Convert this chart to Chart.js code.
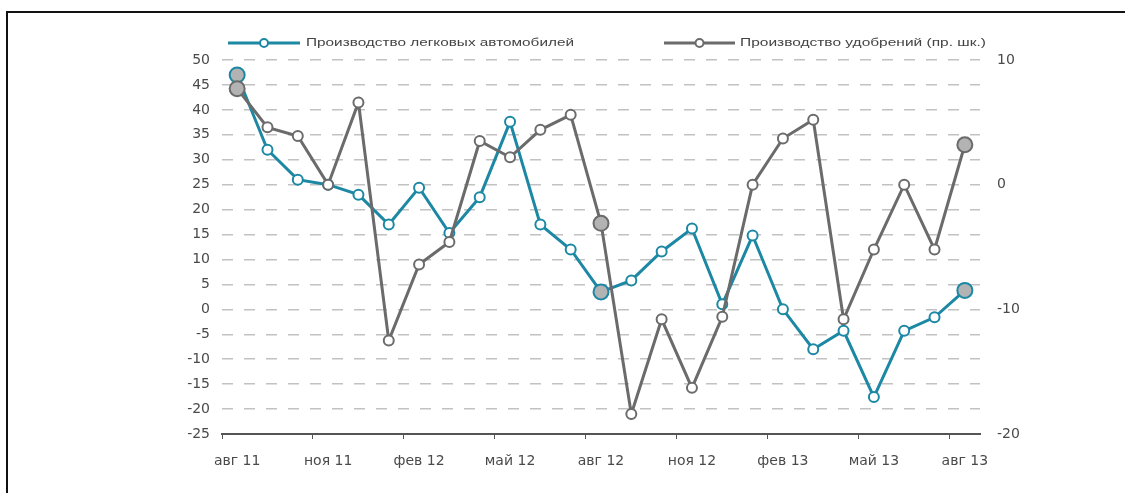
<!DOCTYPE html>
<html>
<head>
<meta charset="utf-8">
<script src="https://cdn.jsdelivr.net/npm/chart.js@4"></script>
<style>
  html, body { margin: 0; padding: 0; background: #fff; }
  #wrap { position: relative; width: 1125px; height: 493px; }
  #frame { position: absolute; left: 6px; top: 11px; right: 0; bottom: 0;
           border-top: 2px solid #111; border-left: 2px solid #111; pointer-events: none; }
</style>
</head>
<body>
<div id="wrap">
  <canvas id="grafico" width="1125" height="493"></canvas>
  <div id="frame"></div>
</div>
<script>
// Месяцы (авг 2011 - авг 2013)
const meses = ['авг 11', 'сен 11', 'окт 11', 'ноя 11', 'дек 11', 'янв 12', 'фев 12', 'мар 12', 'апр 12',
  'май 12', 'июн 12', 'июл 12', 'авг 12', 'сен 12', 'окт 12', 'ноя 12', 'дек 12', 'янв 13',
  'фев 13', 'мар 13', 'апр 13', 'май 13', 'июн 13', 'июл 13', 'авг 13'];

// Производство легковых автомобилей (левая ось)
const autos = [47, 32, 26, 25, 23, 17, 24.4, 15.3, 22.5, 37.6, 17, 12, 3.5, 5.8, 11.6, 16.2, 1, 14.8,
  0, -8, -4.3, -17.6, -4.3, -1.6, 3.8];

// Производство удобрений, пр. шк. (правая ось)
const fertilizantes = [7.7, 4.6, 3.9, 0, 6.6, -12.5, -6.4, -4.6, 3.5, 2.2, 4.4, 5.6, -3.1, -18.4, -10.8,
  -16.3, -10.6, 0, 3.7, 5.2, -10.8, -5.2, 0, -5.2, 3.2];

const nombres = ['Производство легковых автомобилей', 'Производство удобрений (пр. шк.)'];

// puntos destacados (rellenos de gris)
const destacados = [0, 12, 24];
const rellenoPunto = c => destacados.includes(c.dataIndex) ? '#b3b3b3' : '#fff';
const radioPunto = c => destacados.includes(c.dataIndex) ? 7.5 : 5;

// Leyenda dibujada a mano: línea con círculo en el centro
const leyenda = {
  id: 'leyenda',
  afterDraw(chart) {
    const ctx = chart.ctx;
    const items = [
      { ds: 0, x0: 228, x1: 300, tx: 306, tw: 268 },
      { ds: 1, x0: 664, x1: 735, tx: 740, tw: 246 }
    ];
    const y = 43;
    items.forEach(it => {
      const ds = chart.data.datasets[it.ds];
      ctx.save();
      ctx.strokeStyle = ds.borderColor;
      ctx.lineWidth = 3;
      ctx.beginPath();
      ctx.moveTo(it.x0, y);
      ctx.lineTo(it.x1, y);
      ctx.stroke();
      ctx.beginPath();
      ctx.arc((it.x0 + it.x1) / 2, y, 4, 0, Math.PI * 2);
      ctx.fillStyle = '#fff';
      ctx.fill();
      ctx.lineWidth = 2;
      ctx.stroke();
      ctx.font = '10px "Liberation Sans"';
      ctx.fillStyle = '#444';
      ctx.textBaseline = 'middle';
      const w = ctx.measureText(ds.label).width;
      ctx.translate(it.tx, y);
      ctx.scale(it.tw / w, 1);
      ctx.fillText(ds.label, 0, 0);
      ctx.restore();
    });
  }
};

const fuente = { family: 'DejaVu Sans', size: 14 };

const ctx = document.getElementById('grafico').getContext('2d');
const grafico = new Chart(ctx, {
  type: 'line',
  data: {
    labels: meses,
    datasets: [{
      label: nombres[0],
      data: autos,
      yAxisID: 'y',
      borderColor: '#1c88a4',
      borderWidth: 3,
      pointBackgroundColor: rellenoPunto,
      pointBorderColor: '#1c88a4',
      pointBorderWidth: 2,
      pointRadius: radioPunto,
      order: 1,
      fill: false
    }, {
      label: nombres[1],
      data: fertilizantes,
      yAxisID: 'y1',
      borderColor: '#6b6b6b',
      borderWidth: 3,
      pointBackgroundColor: rellenoPunto,
      pointBorderColor: '#6b6b6b',
      pointBorderWidth: 2,
      pointRadius: radioPunto,
      order: 0,
      fill: false
    }]
  },
  options: {
    responsive: false,
    animation: false,
    layout: { padding: { top: 60, left: 0, right: 0, bottom: 0 } },
    plugins: { legend: { display: false }, tooltip: { enabled: false } },
    scales: {
      x: {
        offset: true,
        grid: {
          drawOnChartArea: false,
          offset: true,
          tickLength: 5,
          color: c => c.index % 3 === 0 ? '#555' : 'rgba(0,0,0,0)'
        },
        border: { display: true, color: '#555', width: 2 },
        ticks: {
          autoSkip: false,
          maxRotation: 0,
          padding: 14,
          color: '#4a4a4a',
          font: fuente,
          callback: (v, i) => i % 3 === 0 ? meses[i] : ''
        },
        afterFit: s => { s.height = 59; }
      },
      y: {
        position: 'left',
        min: -25,
        max: 50,
        ticks: { stepSize: 5, padding: 12, color: '#4a4a4a', font: fuente },
        grid: { color: '#c2c2c2', lineWidth: 1.5, drawTicks: false },
        border: { display: false, dash: [11, 11] },
        afterFit: s => { s.width = 222; }
      },
      y1: {
        position: 'right',
        min: -20,
        max: 10,
        ticks: { stepSize: 10, padding: 17, color: '#4a4a4a', font: fuente },
        grid: { drawOnChartArea: false, drawTicks: false },
        border: { display: false },
        afterFit: s => { s.width = 145; }
      }
    }
  },
  plugins: [leyenda]
});
</script>
</body>
</html>
